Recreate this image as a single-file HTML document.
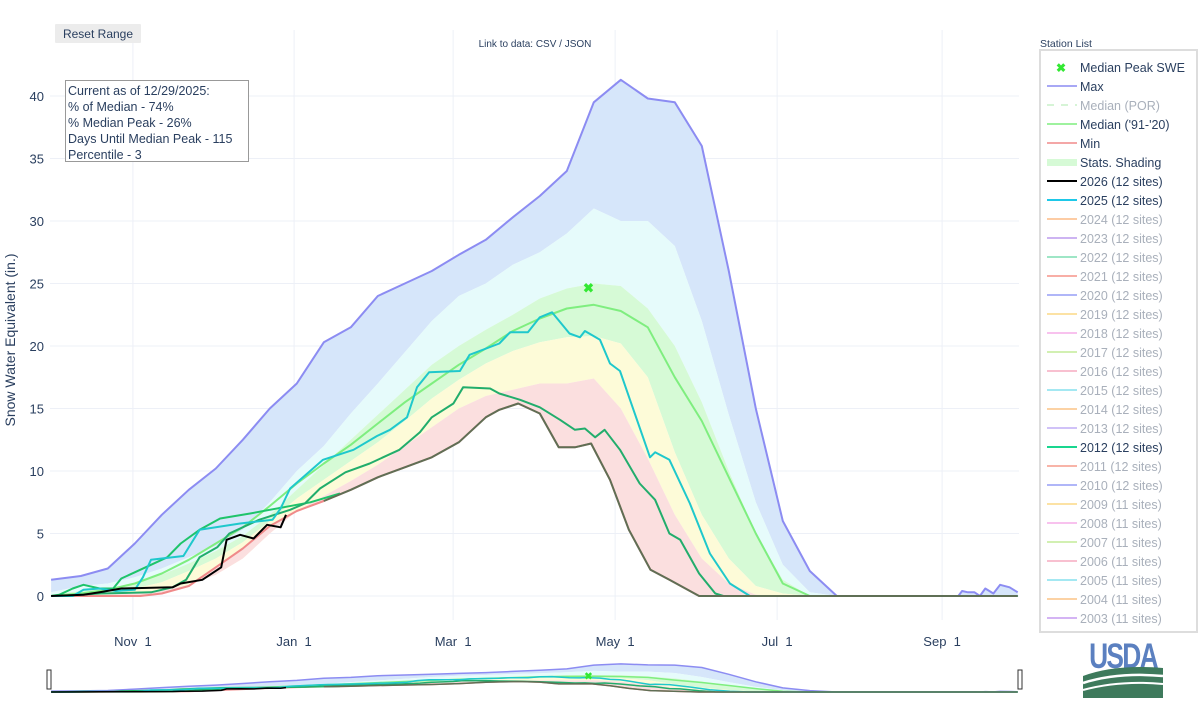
<!DOCTYPE html>
<html><head><meta charset="utf-8"><style>
body{margin:0;background:#fff;font-family:"Liberation Sans",sans-serif;}
svg text{font-family:"Liberation Sans",sans-serif;}
</style></head><body>
<svg id="chart" width="1200" height="700" viewBox="0 0 1200 700" xmlns="http://www.w3.org/2000/svg">
<rect x="0" y="0" width="1200" height="700" fill="#fff"/>
<g id="grid"></g>
<g id="bands"></g>
<g id="lines"></g>
<g id="axes"></g>
<g id="mini"></g>
<rect x="55" y="24" width="86" height="19" fill="#ececec" rx="1"/>
<text x="98" y="38" font-size="12" fill="#2a3f5f" text-anchor="middle">Reset Range</text>
<text x="535" y="47" font-size="10" fill="#2a3f5f" text-anchor="middle">Link to data: CSV / JSON</text>
<g>
<rect x="65.5" y="80.5" width="183" height="81" fill="#fff" stroke="#999" stroke-width="1"/>
<text x="68" y="95" font-size="12.5" fill="#2a3f5f">Current as of 12/29/2025:</text>
<text x="68" y="111" font-size="12.5" fill="#2a3f5f">% of Median - 74%</text>
<text x="68" y="127" font-size="12.5" fill="#2a3f5f">% Median Peak - 26%</text>
<text x="68" y="143" font-size="12.5" fill="#2a3f5f">Days Until Median Peak - 115</text>
<text x="68" y="159" font-size="12.5" fill="#2a3f5f">Percentile - 3</text>
</g>
<text transform="translate(15,340) rotate(-90)" font-size="14" fill="#2a3f5f" text-anchor="middle">Snow Water Equivalent (in.)</text>
<text x="1040" y="47" font-size="10.5" fill="#2a3f5f">Station List</text>
<rect x="1040" y="50" width="157" height="582" fill="#fff" stroke="#ddd" stroke-width="2"/>
<g id="legend"></g>
<g>
<text x="1123" y="668" font-size="31" fill="#5b80c0" text-anchor="middle" font-weight="bold" transform="translate(1123,668) scale(0.85,1.15) translate(-1123,-668)" style="letter-spacing:-2px">USDA</text>
<path d="M1083,676 Q1115,664 1163,668 L1163,698 L1083,698 Z" fill="#3e7a5c"/>
<path d="M1083,683 Q1118,672 1163,676" stroke="#fff" stroke-width="2.5" fill="none"/>
<path d="M1083,690 Q1120,680 1163,684" stroke="#fff" stroke-width="2" fill="none"/>
</g>
</svg>
<script>
// ---- chart data (day index, SWE inches) ----
const gridDays = [4,15,25,35,45,55,65,75,85,95,105,115,125,135,145,155,165,175,185,195,205,215,225,235,245,255,265,275,285,295,362];
const p90 = [0.3,0.8,1,1.5,2.2,3.1,4,5.3,7.5,10,12,14.6,17,19.5,22,24,25,26.5,27.5,29,31,30,30,28,22,14.5,7.5,2.5,0.3,0,0];
const p70 = [0.1,0.4,0.6,1,1.7,2.6,3.6,4.8,6.5,8.5,10.5,12.5,14.5,16.5,18.5,20,21.3,22.5,23.8,24.6,25,24.8,23,20,15.5,10,5,1.3,0,0,0];
const medianVals = [0,0.2,0.5,1,1.8,2.9,4.2,5.5,7.2,9,10.6,12.1,13.8,15.5,17,18.5,19.8,21.2,22.2,23,23.3,22.8,21.5,17.5,14,9.5,5,1,0,0,0];
const p45 = [0,0.1,0.3,0.6,1.1,2,3,4.3,6,7.8,9.3,10.8,12.3,14,15.8,17.3,18.6,19.6,20.3,20.7,20.8,20.2,17.5,11.5,6.5,3,0.8,0.2,0,0,0];
const p30 = [0,0,0.1,0.2,0.4,0.9,1.7,3,5,6.8,8,9.2,10.5,12,13.5,15,16,16.5,17,17,17.4,15,11,6.5,3,1,0.1,0,0,0,0];
const maxDays = [4,15,25,35,45,55,65,75,85,95,105,115,125,135,145,155,165,175,185,195,205,215,225,235,245,255,265,275,285,295,340,341.4,343.6,346,348,350,353,355.5,359,362];
const maxVals = [1.3,1.6,2.2,4.2,6.5,8.5,10.2,12.5,15,17,20.3,21.5,24,25,26,27.3,28.5,30.3,32,34,39.5,41.3,39.8,39.5,36,26,15,6,2,0,0,0.4,0.3,0.3,0,0.6,0.2,0.9,0.7,0.3];
const minDays = [4,37,45,55,65,75,85,95,105,115,125,135,145,155,165,170,177,185,192,198,204,211,218,226,233,244,362];
const minVals = [0,0,0.2,0.8,2.3,3.8,5.6,6.8,7.6,8.5,9.5,10.3,11.1,12.3,14.3,14.9,15.4,14.6,11.9,11.9,12.2,9.3,5.3,2.1,1.3,0,0];
const y2026Days = [4,16,22,30,49,52,60,67,69,74,79,84,89,91];
const y2026Vals = [0,0.1,0.3,0.6,0.7,1,1.3,2.3,4.5,4.9,4.6,5.7,5.5,6.5];
const y2025Days = [4,12,16,22,28,35,38,41,53,59,74,86,89,92.5,104.7,116,124.7,129.5,135.8,139.5,144,155.4,159,170,174,180.6,185,189.5,196,199.9,201.7,207.3,211,214.7,218.4,225.8,227.7,233,240.6,248,255.4,262.8,362];
const y2025Vals = [0,0,0.5,0.6,0.4,0.5,1.5,2.9,3.2,5.3,5.8,6.1,7,8.6,10.9,11.7,12.8,13.3,14.3,16.7,17.9,18,19.3,20.2,21.1,21.1,22.3,22.7,21,20.7,21.2,20.5,18.6,18,15.7,11.1,11.5,10.9,7.4,3.4,1,0,0];
const y2012Days = [7,22,41,49,54,59,65.5,70,81,92.5,98,103.6,113,122,133,140.6,145,153,156.6,166.6,170,177.7,185,192.5,198,201.7,205.5,209,214.7,222,227.7,233,237,244,250,253,362];
const y2012Vals = [0,0.2,0.3,0.7,1.3,3.1,3.9,5,6.1,6.9,7.4,8.6,9.9,10.6,11.7,13.1,14.3,15.4,16.7,16.6,16.2,15.7,15.1,14.1,13.3,13.4,12.7,13.3,11.7,9,7.7,5,4.5,1.8,0.2,0,0];
const lowDays = [4,7,12,16,22,27,30,37,47,52,59,66.6,77.7,90,100,111];
const lowVals = [0,0.1,0.6,0.9,0.6,0.6,1.4,2.1,3.1,4.2,5.3,6.2,6.6,7.1,7.5,8.2];
const peakDay = 203;
const peakVal = 24.6;
const yTicks = [0,5,10,15,20,25,30,35,40];
const xTickDays = [34.3,94,152.9,212.9,272.9,334];
const xTickLabels = ["Nov  1","Jan  1","Mar  1","May  1","Jul  1","Sep  1"];

const NS="http://www.w3.org/2000/svg";
const X0=50,X1=1019;
function xs(d){return Math.min(X1,Math.max(X0,40.3+2.7*d));}
function ys(v){return 596-12.5*v;}
function ym(v){return 692-0.68*v;}
function mk(tag,attrs,parent){const e=document.createElementNS(NS,tag);for(const k in attrs)e.setAttribute(k,attrs[k]);parent.appendChild(e);return e;}
function pts(days,vals,yf){return days.map((d,i)=>xs(d).toFixed(1)+","+yf(vals[i]).toFixed(1));}
function linePath(days,vals,yf){return "M"+pts(days,vals,yf).join("L");}
function bandPath(dA,vA,dB,vB,yf){const a=pts(dA,vA,yf);const b=pts(dB,vB,yf).reverse();return "M"+a.join("L")+"L"+b.join("L")+"Z";}

const grid=document.getElementById('grid');
yTicks.forEach(t=>{const l=mk('line',{x1:X0,x2:X1,y1:ys(t),y2:ys(t),stroke:'#edf0f7','stroke-width':1},grid);

});
xTickDays.forEach(d=>{const l=mk('line',{x1:xs(d),x2:xs(d),y1:30,y2:620,stroke:'#edf0f7','stroke-width':1},grid);

});

function drawBands(g,yf){
  const spec=[[maxDays,maxVals,gridDays,p90,'#d6e6fa','band-max-90'],[gridDays,p90,gridDays,p70,'#e6fbfb','band-90-70'],[gridDays,p70,gridDays,p45,'#d6fad6','band-70-45'],[gridDays,p45,gridDays,p30,'#fdfbd8','band-45-30'],[gridDays,p30,minDays,minVals,'#fbdfdf','band-30-min']];
  spec.forEach(s=>{const p=mk('path',{d:bandPath(s[0],s[1],s[2],s[3],yf),fill:s[4],stroke:'none'},g);
  
  });
}
function drawLines(g,yf,w){
  const L=[[maxDays,maxVals,'#8c8cf2','max-line'],[gridDays,medianVals,'#7fee7f','median-line'],[minDays,minVals,'#f08a8a','min-line'],[lowDays,lowVals,'#1ec46a','low-year-line'],[y2012Days,y2012Vals,'#22ad6c','line-2012'],[y2025Days,y2025Vals,'#1fc8cc','line-2025']];
  L.forEach(s=>{const p=mk('path',{d:linePath(s[0],s[1],yf),fill:'none',stroke:s[2],'stroke-width':w,'stroke-linejoin':'round'},g);
  
  });
  const od=[],ov=[];minDays.forEach((d,i)=>{if(d>=100){od.push(d);ov.push(minVals[i]);}});
  const o=mk('path',{d:linePath(od,ov,yf),fill:'none',stroke:'#5f6f55','stroke-width':w,'stroke-linejoin':'round'},g);
  
  
  const b=mk('path',{d:linePath(y2026Days,y2026Vals,yf),fill:'none',stroke:'#000','stroke-width':w,'stroke-linejoin':'round'},g);
  
  
}
drawBands(document.getElementById('bands'),ys);
const lines=document.getElementById('lines');
drawLines(lines,ys,2);
const px=xs(peakDay),py=ys(peakVal);
const pk=mk('text',{x:px,y:py+4,'font-size':13,'font-weight':'bold',fill:'#33e833','text-anchor':'middle'},lines);
pk.textContent='✖';



const axes=document.getElementById('axes');
yTicks.forEach(t=>{const e=mk('text',{x:44,y:ys(t)+5,'font-size':13,fill:'#2a3f5f','text-anchor':'end'},axes);e.textContent=t;

});
xTickDays.forEach((d,i)=>{const e=mk('text',{x:xs(d),y:646,'font-size':13,fill:'#2a3f5f','text-anchor':'middle'},axes);e.textContent=xTickLabels[i];e.style.whiteSpace='pre';

});

const mini=document.getElementById('mini');
drawBands(mini,ym);
drawLines(mini,ym,1.5);
const mp=mk('text',{x:px,y:ym(peakVal)+4,'font-size':10,'font-weight':'bold',fill:'#33e833','text-anchor':'middle'},mini);
mp.textContent='✖';


[X0-3,X1-1].forEach((x,i)=>{const h=mk('rect',{x:x,y:670,width:4,height:19,fill:'#fff',stroke:'#333','stroke-width':1},mini);

});

const legNames=["Median Peak SWE","Max","Median (POR)","Median ('91-'20)","Min","Stats. Shading"];
const legColors=["#33e833","#8c8cf2","#c8f0c8","#7fee7f","#f08a8a","#d6fad6"];
const yearLabels=["2026 (12 sites)","2025 (12 sites)","2024 (12 sites)","2023 (12 sites)","2022 (12 sites)","2021 (12 sites)","2020 (12 sites)","2019 (12 sites)","2018 (12 sites)","2017 (12 sites)","2016 (12 sites)","2015 (12 sites)","2014 (12 sites)","2013 (12 sites)","2012 (12 sites)","2011 (12 sites)","2010 (12 sites)","2009 (11 sites)","2008 (11 sites)","2007 (11 sites)","2006 (11 sites)","2005 (11 sites)","2004 (11 sites)","2003 (11 sites)"];
const yearColors=["#000","#1ec8e8","#fdcca4","#cdb4f2","#9ee6c6","#f8aea6","#b0b6f8","#fce2a4","#f8c2ee","#d2f0b2","#f8c0d0","#a4e8f2","#fcd2a4","#d0c2f8","#19d68f","#f8b4a8","#b0b6f8","#fce2a4","#f8c2ee","#d2f0b2","#f8c0d0","#a4e8f2","#fcd2a4","#d4b4f4"];
const active=[true,true,false,true,true,true];
const leg=document.getElementById('legend');
function legRow(i,label,color,on,kind){
  const y=67+19*i;
  if(kind==='marker'){const m=mk('text',{x:1061,y:y+5,'font-size':12,'font-weight':'bold',fill:color,'text-anchor':'middle'},leg);m.textContent='✖';}
  else if(kind==='band'){mk('rect',{x:1047,y:y-3,width:30,height:7,fill:color},leg);}
  else mk('line',{x1:1047,x2:1077,y1:y,y2:y,stroke:color,'stroke-width':kind==='year'?2:1.5,'stroke-dasharray':kind==='dash'?'7,7':'none'},leg);
  const t=mk('text',{x:1080,y:y+5,'font-size':12.5,fill:on?'#2a3f5f':'#a9b0bb'},leg);t.textContent=label;
  
  
}
legNames.forEach((n,i)=>legRow(i,n,legColors[i],active[i],i===0?'marker':i===5?'band':i===2?'dash':'line'));
yearLabels.forEach((n,i)=>{const on=(i<2||n.startsWith('2012'));legRow(6+i,n,yearColors[i],on,'year');});
</script>
</body></html>
